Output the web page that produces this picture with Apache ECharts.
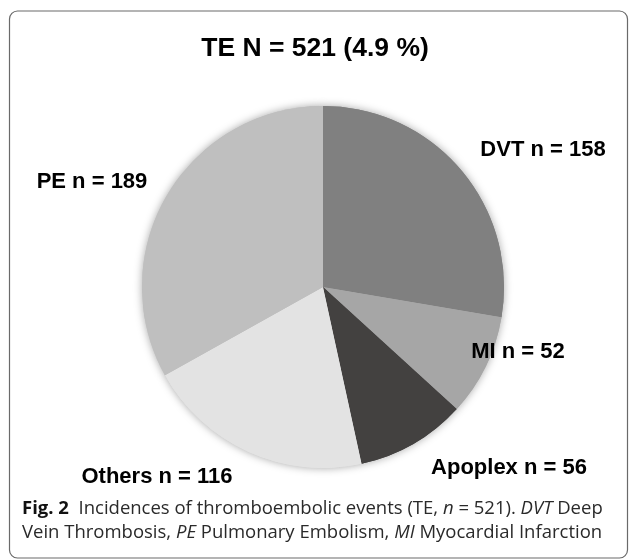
<!DOCTYPE html>
<html>
<head>
<meta charset="utf-8">
<script src="https://cdn.jsdelivr.net/npm/echarts@6/dist/echarts.min.js"></script>
<style>html,body{margin:0;padding:0;background:#fff;}#c{width:630px;height:559px;}</style>
</head>
<body>
<div id="c"></div>
<script>
var categories = ['DVT', 'MI', 'Apoplex', 'Others', 'PE'];
var counts = [158, 52, 56, 116, 189];
var sliceColors = ['#808080', '#a6a6a6', '#434140', '#e3e3e3', '#bfbfbf'];
var titleText = 'TE N = 521 (4.9 %)';

var labelPos = {
  0: [543, 150],
  1: [518, 352],
  2: [509, 468],
  3: [157, 477],
  4: [92, 182]
};

var data = categories.map(function (c, i) {
  return { name: c, value: counts[i], itemStyle: { color: sliceColors[i] } };
});

var cap = { fontFamily: 'Open Sans', fontSize: 18.5, lineHeight: 24, fill: '#2a2a2a' };
function sty(extra) { var o = {}; for (var k in cap) o[k] = cap[k]; for (var k2 in extra) o[k2] = extra[k2]; return o; }

var chart = echarts.init(document.getElementById('c'), null, { renderer: 'canvas' });
chart.setOption({
  backgroundColor: '#ffffff',
  animation: false,
  title: {
    text: titleText,
    left: 'center',
    top: 30,
    textStyle: { fontFamily: 'Liberation Sans', fontWeight: 'bold', fontSize: 26.5, color: '#000' }
  },
  graphic: [
    {
      type: 'rect', z: -10,
      shape: { x: 9.5, y: 11, width: 618, height: 547, r: 8 },
      style: { fill: 'none', stroke: '#6a6a6a', lineWidth: 1.2 }
    },
    {
      type: 'text',
      left: 22, top: 499,
      style: {
        text: '{b|Fig. 2}  {n|Incidences of thromboembolic events (TE, }{i|n}{n| = 521). }{i|DVT}{n| Deep}\n{n|Vein Thrombosis, }{i|PE}{n| Pulmonary Embolism, }{i|MI}{n| Myocardial Infarction}',
        rich: {
          b: sty({ fontWeight: 'bold', fill: '#111' }),
          n: sty({}),
          i: sty({ fontStyle: 'italic' })
        },
        font: '18.5px "Open Sans"'
      }
    }
  ],
  series: [
    {
      type: 'pie', silent: true, z: 1,
      center: [323, 287], radius: 181, startAngle: 90, clockwise: true,
      label: { show: false }, labelLine: { show: false },
      itemStyle: { shadowBlur: 8, shadowColor: 'rgba(0,0,0,0.35)' },
      data: data
    },
    {
      type: 'pie', z: 2,
      center: [323, 287], radius: 181, startAngle: 90, clockwise: true,
      itemStyle: { borderWidth: 0 },
      label: {
        show: true, position: 'outside', overflow: 'none',
        formatter: '{b} n = {c}',
        fontFamily: 'Liberation Sans', fontWeight: 'bold', fontSize: 22, color: '#000'
      },
      labelLine: { show: false },
      labelLayout: function (p) {
        var pos = labelPos[p.dataIndex];
        return { x: pos[0], y: pos[1], align: 'center', verticalAlign: 'middle', width: 250 };
      },
      data: data
    }
  ]
});
</script>
</body>
</html>
